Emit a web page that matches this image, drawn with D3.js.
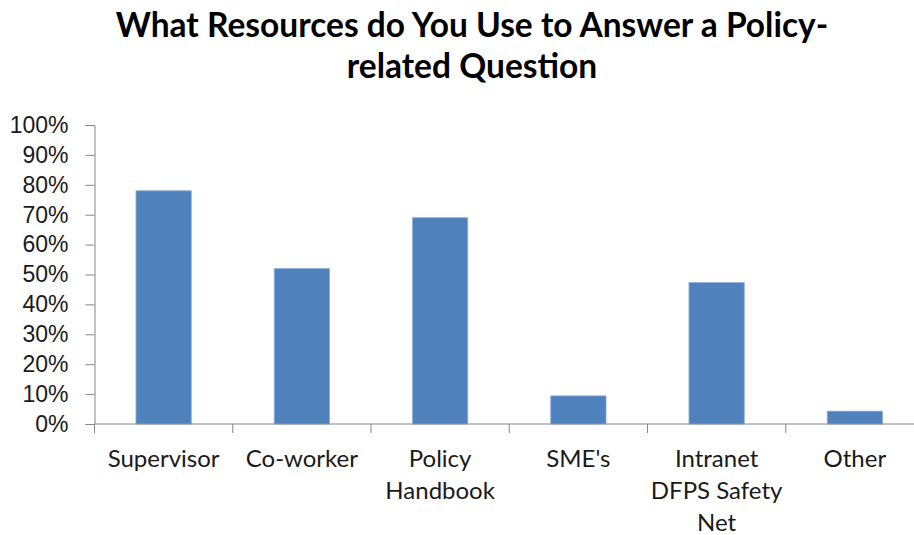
<!DOCTYPE html>
<html>
<head>
<meta charset="utf-8">
<script src="https://cdn.jsdelivr.net/npm/d3@7"></script>
<style>
  body { margin: 0; background: #fff; }
  svg { display: block; }
</style>
</head>
<body>
<svg id="chart"></svg>
<script>
// data
var categories = ["Supervisor", "Co-worker", "Policy Handbook", "SME's", "Intranet DFPS Safety Net", "Other"];
var shares = [0.78, 0.52, 0.69, 0.094, 0.473, 0.043];
var yTicks = [0, 0.1, 0.2, 0.3, 0.4, 0.5, 0.6, 0.7, 0.8, 0.9, 1.0];
var titleLines = ["What Resources do You Use to Answer a Policy-", "related Question"];

var dimensions = {
  width: 914,
  height: 535,
  margin: { top: 125, bottom: 111, left: 94.5, right: -10 }
}

var svg = d3.select("#chart")
  .attr("width", dimensions.width)
  .attr("height", dimensions.height)
  .style("font-family", "Lato, 'Open Sans', sans-serif")

var x = d3.scaleBand()
  .domain(categories)
  .range([dimensions.margin.left, dimensions.width - dimensions.margin.right])
  .paddingInner(0.6)
  .paddingOuter(0.3)

var y = d3.scaleLinear()
  .domain([0, 1])
  .range([dimensions.height - dimensions.margin.bottom, dimensions.margin.top])

// title
svg.append("text")
  .attr("text-anchor", "middle")
  .attr("font-weight", "bold")
  .style("font-size", "33.5px")
  .attr("fill", "#000")
  .selectAll("tspan")
  .data(titleLines)
  .join("tspan")
    .attr("x", 472)
    .attr("y", function(d, i) { return 37 + i * 41 })
    .text(function(d) { return d })

// bars
svg.append("g")
  .selectAll("rect")
  .data(shares)
  .join("rect")
    .attr("x", function(d, i) { return x(categories[i]) })
    .attr("y", function(d) { return y(d) })
    .attr("width", x.bandwidth())
    .attr("height", function(d) { return y(0) - y(d) })
    .attr("fill", "#4f81bd")
    .attr("stroke", "#8fb0d8")
    .attr("stroke-width", 0.8)

// y axis
var yAxis = d3.axisLeft(y)
  .tickValues(yTicks)
  .tickFormat(d3.format(".0%"))
  .tickSize(9)
  .tickPadding(17)

var yg = svg.append("g")
  .attr("transform", `translate(${dimensions.margin.left},0)`)
  .call(yAxis)
yg.selectAll("path, line").attr("stroke", "#868686")
yg.selectAll("text")
  .style("font-size", "23px")
  .attr("fill", "#1a1a1a")

// x axis, ticks sit between categories
var step = x.step()
var boundaries = d3.range(categories.length + 1).map(function(i) { return dimensions.margin.left + i * step })

var xg = svg.append("g")
xg.append("line")
  .attr("x1", dimensions.margin.left)
  .attr("x2", dimensions.width)
  .attr("y1", y(0))
  .attr("y2", y(0))
  .attr("stroke", "#868686")
xg.selectAll(".tick")
  .data(boundaries)
  .join("line")
    .attr("x1", function(d) { return d })
    .attr("x2", function(d) { return d })
    .attr("y1", y(0))
    .attr("y2", y(0) + 9)
    .attr("stroke", "#868686")

// category labels, wrapped to the slot width
var labels = xg.selectAll(".label")
  .data(categories)
  .join("text")
    .attr("text-anchor", "middle")
    .style("font-size", "24px")
    .attr("fill", "#1a1a1a")
    .attr("transform", function(d) { return `translate(${x(d) + x.bandwidth() / 2},467)` })

labels.each(function(d) {
  var text = d3.select(this)
  var words = d.split(" ")
  var lines = []
  var line = []
  var probe = text.append("tspan")
  words.forEach(function(w) {
    line.push(w)
    probe.text(line.join(" "))
    if (probe.node().getComputedTextLength() > step - 2 && line.length > 1) {
      line.pop()
      lines.push(line.join(" "))
      line = [w]
    }
  })
  lines.push(line.join(" "))
  probe.remove()
  text.selectAll("tspan")
    .data(lines)
    .join("tspan")
      .attr("x", 0)
      .attr("y", function(l, i) { return i * 32 })
      .text(function(l) { return l })
})
</script>
</body>
</html>
